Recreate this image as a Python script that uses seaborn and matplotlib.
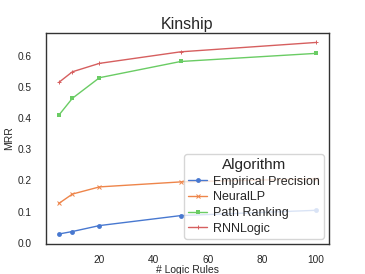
import matplotlib
matplotlib.use("Agg")
import matplotlib.pyplot as plt
import seaborn as sns
import pandas as pd

rules = [5, 10, 20, 50, 100]
empirical = [0.028, 0.036, 0.055, 0.087, 0.104]
neurallp = [0.126, 0.156, 0.179, 0.195, 0.205]
path_ranking = [0.409, 0.463, 0.529, 0.581, 0.607]
rnnlogic = [0.514, 0.548, 0.575, 0.612, 0.642]
algorithms = ["Empirical Precision", "NeuralLP", "Path Ranking", "RNNLogic"]
markers = ['o', 'x', 's', '+']

sns.set_theme(style="white", palette="muted")
plt.rcParams['font.family'] = ['Liberation Sans', 'DejaVu Sans']
colors = sns.color_palette("muted", 4)

fig = plt.figure(figsize=(3.65, 2.74), dpi=100)
ax = fig.add_axes([0.126, 0.111, 0.775, 0.769])
for name, vals, mk, c in zip(algorithms, [empirical, neurallp, path_ranking, rnnlogic], markers, colors):
    d = pd.DataFrame({"# Logic Rules": rules, "MRR": vals})
    sns.lineplot(data=d, x="# Logic Rules", y="MRR", marker=mk, color=c, label=name,
                 markersize=3.5, linewidth=1.0, markeredgewidth=0.7 if mk in 'x+' else 0,
                 markeredgecolor=c, ax=ax)
ax.set_title("Kinship", fontsize=11.5, pad=3)
ax.set_xlabel("# Logic Rules", fontsize=7.5, labelpad=0)
ax.set_ylabel("MRR", fontsize=7.5, labelpad=3)
ax.tick_params(axis='y', labelsize=7.3, pad=4)
ax.tick_params(axis='x', labelsize=7.3, pad=2)
ax.set_xticks([20, 40, 60, 80, 100])
ax.set_yticks([0.0, 0.1, 0.2, 0.3, 0.4, 0.5, 0.6])
for s in ax.spines.values():
    s.set_color("#333333")
    s.set_linewidth(1.0)
leg = ax.legend(title="Algorithm", loc="lower right", fontsize=9, title_fontsize=11,
                handlelength=1.5, borderpad=0.3, labelspacing=0.3, handletextpad=0.5,
                borderaxespad=0.4)
fig.savefig("out.png", dpi=100)
